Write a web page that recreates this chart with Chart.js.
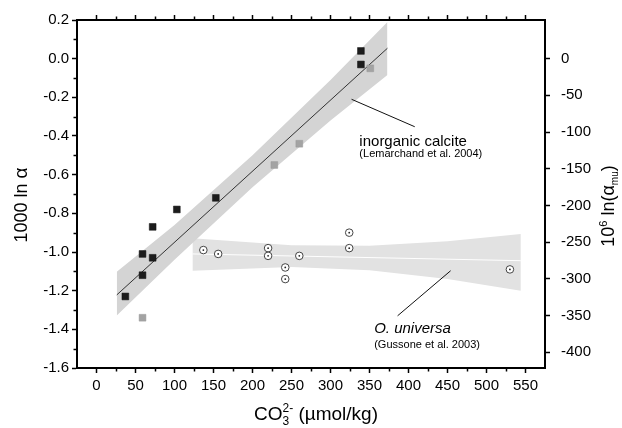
<!DOCTYPE html>
<html lang="en">
<head>
  <meta charset="UTF-8">
  <title>Carbonate ion vs 1000 ln alpha</title>
  <script src="https://cdn.jsdelivr.net/npm/chart.js"></script>
  <style>
    body { margin: 0; background: #fff; }
    #wrap { width: 622px; height: 428px; }
  </style>
</head>
<body>
  <div id="wrap"><canvas id="chart"></canvas></div>

  <script>
    // inorganic calcite (Lemarchand et al. 2004) - black squares
    const calciteX = [37, 59, 59, 72, 72, 103, 153, 339, 339];
    const calciteY = [-1.23, -1.01, -1.12, -1.03, -0.87, -0.78, -0.72, 0.04, -0.03];
    // inorganic calcite - grey squares
    const calciteGreyX = [59, 228, 260, 351];
    const calciteGreyY = [-1.34, -0.55, -0.44, -0.05];
    // O. universa (Gussone et al. 2003)
    const universaX = [137, 156, 220, 220, 242, 242, 260, 324, 324, 530];
    const universaY = [-0.99, -1.01, -0.98, -1.02, -1.08, -1.14, -1.02, -0.90, -0.98, -1.09];

    // regression lines and confidence bands
    const calciteFitX = [26, 373];
    const calciteFitY = [-1.222, 0.054];
    const calciteBandX = [26, 100, 200, 300, 373];
    const calciteBandUpper = [-1.102, -0.86, -0.50, -0.11, 0.19];
    const calciteBandLower = [-1.329, -1.04, -0.665, -0.32, -0.085];
    const universaFitX = [123, 544];
    const universaFitY = [-1.01, -1.045];
    const universaBandX = [123, 250, 350, 450, 544];
    const universaBandUpper = [-0.929, -0.965, -0.968, -0.945, -0.907];
    const universaBandLower = [-1.097, -1.078, -1.095, -1.14, -1.20];

    // tick labels
    const xTicks = [0, 50, 100, 150, 200, 250, 300, 350, 400, 450, 500, 550];
    const yTicks = [0.2, 0.0, -0.2, -0.4, -0.6, -0.8, -1.0, -1.2, -1.4, -1.6];
    const y2Ticks = [0, -50, -100, -150, -200, -250, -300, -350, -400];
    const Y2_FACTOR = 263.5; // right axis = left axis * factor

    const FONT = "'Liberation Sans', Arial, sans-serif";
    Chart.defaults.font.family = FONT;
    Chart.defaults.font.size = 15;
    Chart.defaults.color = '#000';

    const pts = (xs, ys) => xs.map((x, i) => ({ x: x, y: ys[i] }));

    // majors plus a minor tick half way between each pair
    function withMinors(list) {
      const out = [];
      list.forEach((v, i) => {
        out.push({ value: v });
        if (i < list.length - 1) out.push({ value: (v + list[i + 1]) / 2, minor: true });
      });
      return out;
    }

    const tickColor = (ctx) => (ctx.tick && ctx.tick.minor ? 'rgba(0,0,0,0)' : '#000');
    const baseGrid = { drawOnChartArea: false, drawTicks: true, tickLength: 5, tickWidth: 1.5, color: tickColor, tickColor: tickColor };
    const baseBorder = { display: true, color: '#000', width: 2 };

    // text annotations (anchors in data units)
    const notes = [
      { text: 'inorganic calcite', x: 337, y: -0.452, font: '15px ' + FONT },
      { text: '(Lemarchand et al. 2004)', x: 337, y: -0.509, font: '11px ' + FONT },
      { text: 'O. universa', x: 356, y: -1.419, font: 'italic 15px ' + FONT },
      { text: '(Gussone et al. 2003)', x: 356, y: -1.497, font: '11px ' + FONT },
    ];
    const leaders = [
      { x1: 327, y1: -0.21, x2: 408, y2: -0.352 },
      { x1: 386, y1: -1.33, x2: 454, y2: -1.097 },
    ];

    // small minor tick marks (shorter than majors)
    const minorTicks = {
      id: 'minorTicks',
      afterDraw(chart) {
        const ctx = chart.ctx;
        const area = chart.chartArea;
        ctx.save();
        ctx.strokeStyle = '#000';
        ctx.lineWidth = 1.5;
        ['x', 'x2', 'y'].forEach((id) => {
          const sc = chart.scales[id];
          sc.ticks.forEach((t) => {
            if (!t.minor) return;
            const p = Math.round(sc.getPixelForValue(t.value)) + 0.5;
            ctx.beginPath();
            if (id === 'x') { ctx.moveTo(p, area.bottom); ctx.lineTo(p, area.bottom + 3.5); }
            if (id === 'x2') { ctx.moveTo(p, area.top); ctx.lineTo(p, area.top - 3.5); }
            if (id === 'y') { ctx.moveTo(area.left, p); ctx.lineTo(area.left - 3.5, p); }
            ctx.stroke();
          });
        });
        ctx.restore();
      }
    };

    // draws runs of text with sub/superscripts
    function runsWidth(ctx, runs) {
      let w = 0;
      runs.forEach((r) => {
        ctx.font = r.font;
        const rw = ctx.measureText(r.text).width;
        if (!r.stack) w += rw;
        else w += Math.max(rw, r.stackW || 0);
      });
      return w;
    }
    function drawRuns(ctx, runs, x, y) {
      let cx = x;
      let pending = 0;
      runs.forEach((r) => {
        ctx.font = r.font;
        const rw = ctx.measureText(r.text).width;
        ctx.fillText(r.text, cx, y + (r.dy || 0));
        if (r.stack) { pending = Math.max(pending, rw); }
        else if (pending) { cx += Math.max(pending, rw); pending = 0; }
        else cx += rw;
      });
    }

    const titles = {
      id: 'titles',
      afterDraw(chart) {
        const ctx = chart.ctx;
        ctx.save();
        ctx.fillStyle = '#000';
        ctx.textBaseline = 'alphabetic';
        ctx.textAlign = 'left';

        // bottom title: CO3 2- (umol/kg)
        const big = '19px ' + FONT, small = '12px ' + FONT;
        const bottom = [
          { text: 'CO', font: big },
          { text: '3', font: small, dy: 5, stack: true },
          { text: '2-', font: small, dy: -8 },
          { text: ' (\u00b5mol/kg)', font: big },
        ];
        ctx.font = small;
        const w3 = ctx.measureText('3').width, w2 = ctx.measureText('2-').width;
        const bw = runsWidth(ctx, [bottom[0], bottom[3]]) + Math.max(w3, w2);
        drawRuns(ctx, bottom, 316 - bw / 2, 420);

        // left title
        const t1 = '18px ' + FONT;
        const left = [{ text: '1000 ln ', font: t1 }, { text: '\u03b1', font: '19px ' + FONT }];
        const lw = runsWidth(ctx, left);
        ctx.save();
        ctx.translate(27, 205 + lw / 2);
        ctx.rotate(-Math.PI / 2);
        drawRuns(ctx, left, 0, 0);
        ctx.restore();

        // right title: 10^6 ln(alpha_mu)
        const right = [
          { text: '10', font: t1 },
          { text: '6', font: '11px ' + FONT, dy: -7 },
          { text: ' ln(', font: t1 },
          { text: '\u03b1', font: t1 },
          { text: 'mu', font: '10px ' + FONT, dy: 4 },
          { text: ')', font: t1 },
        ];
        const rw = runsWidth(ctx, right);
        ctx.save();
        ctx.translate(614, 206 + rw / 2);
        ctx.rotate(-Math.PI / 2);
        drawRuns(ctx, right, 0, 0);
        ctx.restore();

        // annotations
        const sx = chart.scales.x, sy = chart.scales.y;
        notes.forEach((n) => {
          ctx.font = n.font;
          ctx.fillText(n.text, sx.getPixelForValue(n.x), sy.getPixelForValue(n.y));
        });
        ctx.strokeStyle = '#111';
        ctx.lineWidth = 1;
        leaders.forEach((l) => {
          ctx.beginPath();
          ctx.moveTo(sx.getPixelForValue(l.x1), sy.getPixelForValue(l.y1));
          ctx.lineTo(sx.getPixelForValue(l.x2), sy.getPixelForValue(l.y2));
          ctx.stroke();
        });
        ctx.restore();
      }
    };

    // center dot inside the open circles
    const dotStyle = { pointRadius: 0.9, pointBackgroundColor: '#222', pointBorderWidth: 0 };

    const chart = new Chart(document.getElementById('chart'), {
      type: 'line',
      data: {
        datasets: [
          { data: pts(calciteBandX, calciteBandUpper), fill: '+1', backgroundColor: '#d4d4d4', borderWidth: 0, pointRadius: 0, order: 20 },
          { data: pts(calciteBandX, calciteBandLower), fill: false, borderWidth: 0, pointRadius: 0, order: 20 },
          { data: pts(universaBandX, universaBandUpper), fill: '+1', backgroundColor: '#e2e2e2', borderWidth: 0, pointRadius: 0, order: 20 },
          { data: pts(universaBandX, universaBandLower), fill: false, borderWidth: 0, pointRadius: 0, order: 20 },
          { data: pts(calciteFitX, calciteFitY), borderColor: '#333', borderWidth: 1, pointRadius: 0, order: 10 },
          { data: pts(universaFitX, universaFitY), borderColor: '#fff', borderWidth: 1, pointRadius: 0, order: 10 },
          { data: pts(calciteGreyX, calciteGreyY), showLine: false, pointStyle: 'rect', pointRadius: 4.8, pointBackgroundColor: '#a3a3a3', pointBorderColor: '#999', pointBorderWidth: 0.5, order: 3 },
          { data: pts(calciteX, calciteY), showLine: false, pointStyle: 'rect', pointRadius: 4.8, pointBackgroundColor: '#1c1c1c', pointBorderColor: '#111', pointBorderWidth: 0.5, order: 2 },
          { data: pts(universaX, universaY), showLine: false, pointStyle: 'circle', pointRadius: 3.8, pointBackgroundColor: '#fff', pointBorderColor: '#444', pointBorderWidth: 1, order: 1 },
          Object.assign({ data: pts(universaX, universaY), showLine: false, order: 0 }, dotStyle),
        ],
      },
      options: {
        responsive: true,
        maintainAspectRatio: false,
        animation: false,
        layout: { padding: 0 },
        plugins: { legend: { display: false }, tooltip: { enabled: false } },
        scales: {
          x: {
            type: 'linear', position: 'bottom', min: -25, max: 575,
            afterBuildTicks: (s) => { s.ticks = withMinors(xTicks); },
            afterFit: (s) => { s.height = 60; },
            ticks: { autoSkip: false, maxRotation: 0, padding: 4, callback: (v, i, t) => (t[i].minor ? '' : String(v)) },
            grid: baseGrid, border: baseBorder,
          },
          x2: {
            type: 'linear', position: 'top', min: -25, max: 575,
            afterBuildTicks: (s) => { s.ticks = withMinors(xTicks); },
            afterFit: (s) => { s.height = 20; },
            ticks: { display: false },
            grid: baseGrid, border: baseBorder,
          },
          y: {
            type: 'linear', position: 'left', min: -1.6, max: 0.2,
            afterBuildTicks: (s) => { s.ticks = withMinors(yTicks); },
            afterFit: (s) => { s.width = 77; },
            ticks: { autoSkip: false, padding: 3, callback: (v, i, t) => (t[i].minor ? '' : v.toFixed(1)) },
            grid: baseGrid, border: baseBorder,
          },
          y2: {
            type: 'linear', position: 'right', min: -1.6 * Y2_FACTOR, max: 0.2 * Y2_FACTOR,
            afterBuildTicks: (s) => { s.ticks = y2Ticks.map((v) => ({ value: v })); },
            afterFit: (s) => { s.width = 77; },
            ticks: { autoSkip: false, padding: 11, callback: (v) => String(v) },
            grid: baseGrid, border: baseBorder,
          },
        },
      },
      plugins: [minorTicks, titles],
    });
  </script>
</body>
</html>
